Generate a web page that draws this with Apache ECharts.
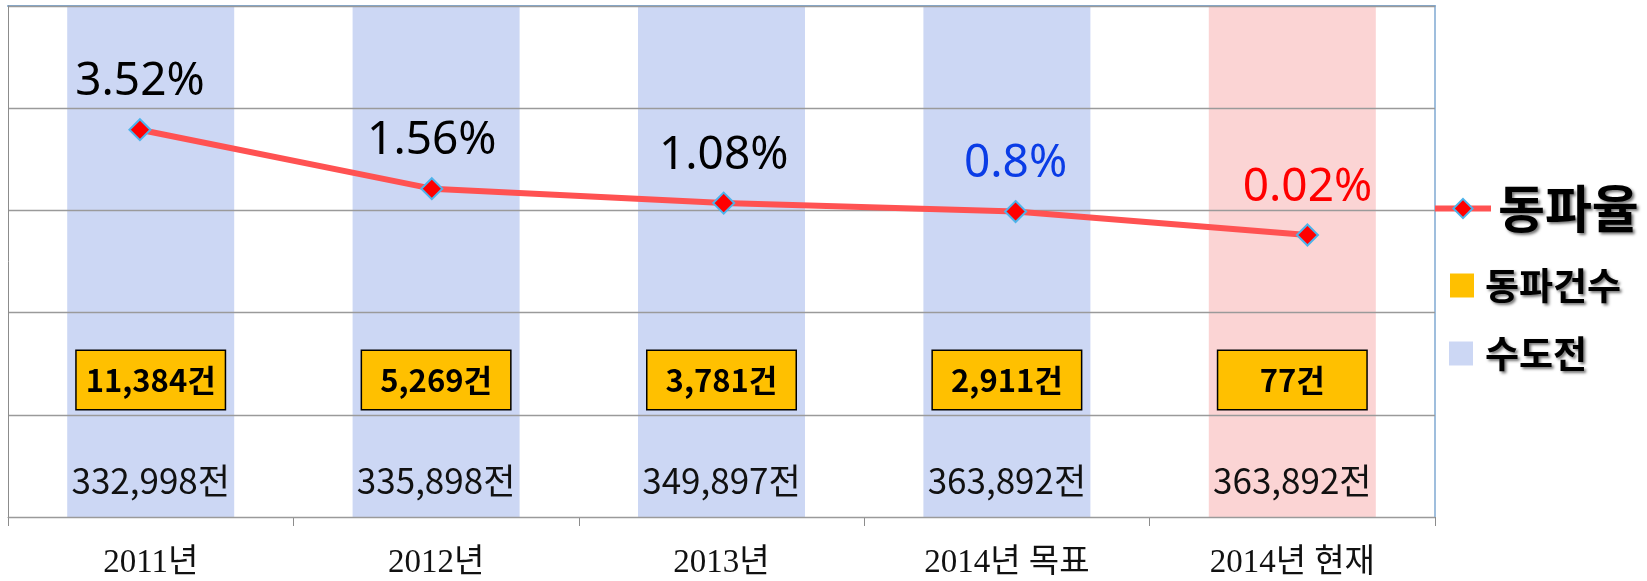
<!DOCTYPE html>
<html>
<head>
<meta charset="utf-8">
<script src="https://cdn.jsdelivr.net/npm/echarts@6/dist/echarts.min.js"></script>
<style>
html,body{margin:0;padding:0;background:#fff;}
#chart{width:1647px;height:581px;}
</style>
</head>
<body>
<div id="chart"></div>
<script>
const categories = ['2011년', '2012년', '2013년', '2014년 목표', '2014년 현재'];
const rates = [3.52, 1.56, 1.08, 0.8, 0.02];
const freezeCounts = [11384, 5269, 3781, 2911, 77];
const meters = [332998, 335898, 349897, 363892, 363892];

const rateLabelColors = ['#000000', '#000000', '#000000', '#0A3CE6', '#FF0000'];
const barColors = ['#CCD7F4', '#CCD7F4', '#CCD7F4', '#CCD7F4', '#FBD4D4'];
const fmt = v => v.toLocaleString('en-US');
const KR = '"Noto Sans CJK KR", "Noto Sans", sans-serif';

const chart = echarts.init(document.getElementById('chart'), null, {renderer: 'canvas'});
const shadow = {textShadowColor: 'rgba(0,0,0,0.55)', textShadowBlur: 3, textShadowOffsetX: 2, textShadowOffsetY: 2};

chart.setOption({
  animation: false,
  backgroundColor: '#ffffff',
  grid: {left: 8, right: 212, top: 6, bottom: 64, containLabel: false},
  legend: [
    {
      data: ['동파율'], left: 1427, top: 178, orient: 'vertical', selectedMode: false,
      itemWidth: 56, itemHeight: 24,
      lineStyle: {width: 6, color: '#FF5252'},
      textStyle: Object.assign({fontFamily: KR, fontSize: 51, fontWeight: 'bold', color: '#000', padding: [0, 0, 0, 2]}, shadow)
    },
    {
      data: ['동파건수'], left: 1445, top: 262, orient: 'vertical', selectedMode: false,
      icon: 'rect', itemWidth: 24, itemHeight: 24,
      textStyle: Object.assign({fontFamily: KR, fontSize: 37, fontWeight: 'bold', color: '#000', padding: [0, 0, 0, 6]}, shadow)
    },
    {
      data: ['수도전'], left: 1444, top: 330, orient: 'vertical', selectedMode: false,
      icon: 'rect', itemWidth: 24, itemHeight: 24,
      textStyle: Object.assign({fontFamily: KR, fontSize: 37, fontWeight: 'bold', color: '#000', padding: [0, 0, 0, 7]}, shadow)
    }
  ],
  xAxis: [
    {
      type: 'category', data: categories, position: 'bottom', boundaryGap: true,
      axisLine: {show: true, onZero: false, lineStyle: {color: '#8C8C8C', width: 1}},
      axisTick: {show: true, length: 9, interval: 0, lineStyle: {color: '#8C8C8C'}},
      axisLabel: {interval: 0, margin: 30, fontFamily: '"Liberation Serif", "Noto Sans CJK KR", serif', fontSize: 33, color: '#111'},
      splitLine: {show: false}
    },
    {
      type: 'value', min: -0.452, max: 4.437, position: 'top',
      axisLine: {show: true, onZero: false, lineStyle: {color: '#7FA9D2', width: 2}},
      axisTick: {show: false}, axisLabel: {show: false}, splitLine: {show: false}
    }
  ],
  yAxis: [
    {
      type: 'value', min: 0, max: 5, interval: 1, position: 'left', z: 3,
      axisLine: {show: true, onZero: false, lineStyle: {color: '#8C8C8C', width: 1}},
      axisTick: {show: false}, axisLabel: {show: false},
      splitLine: {show: true, lineStyle: {color: '#9A9A9A', width: 1.3}}
    },
    {type: 'value', show: false, min: 0, max: v => v.min, splitLine: {show: false}},
    {type: 'value', show: false, min: 0, max: v => v.min, splitLine: {show: false}},
    {
      type: 'value', min: -9.35, max: 7.63, position: 'right',
      axisLine: {show: true, onZero: false, lineStyle: {color: '#7FA9D2', width: 1.5}},
      axisTick: {show: false}, axisLabel: {show: false}, splitLine: {show: false}
    }
  ],
  series: [
    {
      name: '수도전', type: 'bar', xAxisIndex: 0, yAxisIndex: 1, barWidth: 167, barGap: '-100%', z: 1,
      clip: true, silent: true,
      itemStyle: {color: '#CCD7F4'},
      data: meters.map((v, i) => ({value: v, itemStyle: {color: barColors[i]}})),
      label: {
        show: true, position: ['50%', '92.8%'], align: 'center', verticalAlign: 'middle',
        fontFamily: KR, fontSize: 35, color: '#111',
        formatter: p => fmt(p.value) + '전'
      }
    },
    {
      name: '동파건수', type: 'bar', xAxisIndex: 0, yAxisIndex: 2, barWidth: 167, barGap: '-100%', z: 5,
      clip: true, silent: true,
      itemStyle: {color: '#FFC000'},
      data: freezeCounts.map(v => ({value: v, itemStyle: {color: 'rgba(0,0,0,0)'}})),
      label: {
        show: true, position: ['50%', '73.2%'], align: 'center', verticalAlign: 'middle',
        fontFamily: KR, fontSize: 31, fontWeight: 'bold', color: '#000',
        backgroundColor: '#FFC000', borderColor: '#000', borderWidth: 1.5,
        width: 148, height: 58, lineHeight: 58, padding: 0,
        formatter: p => fmt(p.value) + '건'
      }
    },
    {
      name: '동파율', type: 'line', xAxisIndex: 1, yAxisIndex: 3, z: 6, silent: true,
      symbol: 'diamond', symbolSize: 21,
      lineStyle: {color: '#FF5252', width: 6},
      itemStyle: {color: '#FF0000', borderColor: '#4DB3EA', borderWidth: 2},
      data: rates.map((v, i) => ({value: [i, v], label: {color: rateLabelColors[i]}})),
      label: {
        show: true, position: 'top', distance: 13,
        fontFamily: '"Noto Sans", "DejaVu Sans", sans-serif', fontSize: 46, color: '#000',
        formatter: p => p.value[1] + '%'
      }
    }
  ]
});
</script>
</body>
</html>
